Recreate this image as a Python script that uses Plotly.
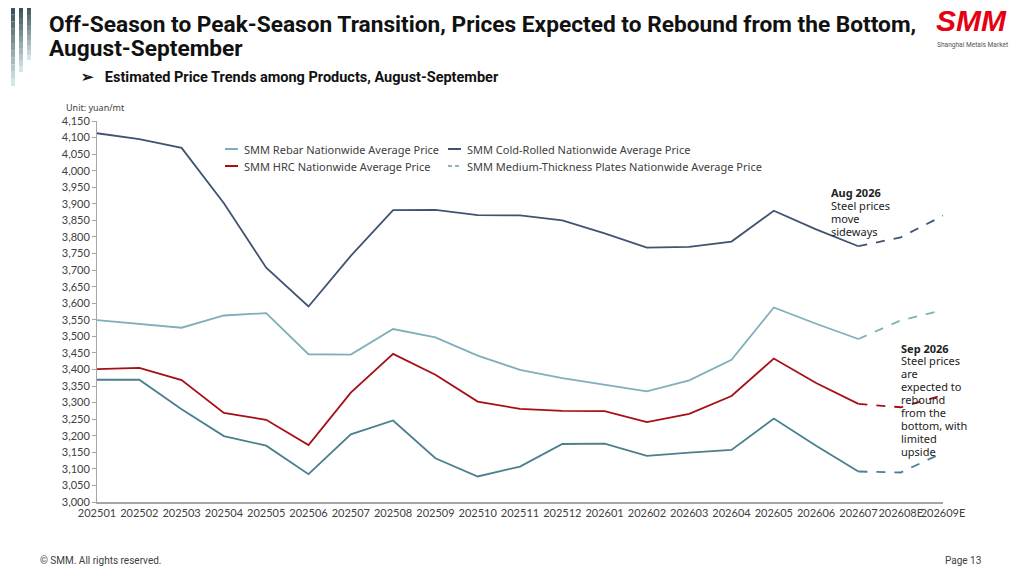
import plotly.graph_objects as go

months = ["202501", "202502", "202503", "202504", "202505", "202506", "202507",
          "202508", "202509", "202510", "202511", "202512", "202601", "202602",
          "202603", "202604", "202605", "202606", "202607", "202608E", "202609E"]

rebar = [3549, 3537, 3526, 3563, 3570, 3446, 3445, 3522, 3497, 3442, 3399,
         3374, 3354, 3334, 3367, 3429, 3587, 3538, 3492, 3548, 3579]
hrc = [3401, 3405, 3368, 3269, 3248, 3172, 3330, 3447, 3384, 3303, 3281,
       3275, 3274, 3241, 3266, 3320, 3433, 3359, 3296, 3286, 3323]
cold_rolled = [4113, 4095, 4069, 3902, 3707, 3590, 3743, 3881, 3882, 3866, 3865,
               3850, 3811, 3768, 3770, 3786, 3879, 3823, 3772, 3799, 3864]
medium_plate = [3369, 3369, 3280, 3199, 3170, 3084, 3204, 3246, 3132, 3077, 3107,
                3175, 3176, 3139, 3149, 3157, 3252, 3170, 3092, 3089, 3149]

# last actual month is 202607, the rest is forecast (dashed)
split = months.index("202607")

series = [
    ("SMM Rebar Nationwide Average Price", rebar, "#7FAFBA"),
    ("SMM HRC Nationwide Average Price", hrc, "#A50F15"),
    ("SMM Cold-Rolled Nationwide Average Price", cold_rolled, "#3E5470"),
    ("SMM Medium-Thickness Plates Nationwide Average Price", medium_plate, "#4A7F8D"),
]

aug_note = ["<b>Aug 2026</b>", "Steel prices", "move", "sideways"]
sep_note = ["<b>Sep 2026</b>", "Steel prices", "are", "expected to", "rebound",
            "from the", "bottom, with", "limited", "upside"]

fig = go.Figure()
for name, vals, color in series:
    fig.add_trace(go.Scatter(x=months[:split + 1], y=vals[:split + 1], mode="lines",
                             name=name, line=dict(color=color, width=1.8),
                             showlegend=False))
    fig.add_trace(go.Scatter(x=months[split:], y=vals[split:], mode="lines",
                             name=name + " (E)", line=dict(color=color, width=1.8, dash="dash"),
                             showlegend=False))

head_font = "Roboto, sans-serif"
body_font = "Noto Sans, sans-serif"
tick_font = dict(family="Lato, sans-serif", size=11, color="#404040")

# the page has an 8px body margin, so the plot box is placed 8px up/left
fig.update_layout(
    width=1024, height=576,
    margin=dict(l=89, r=89, t=113, b=82),
    paper_bgcolor="white", plot_bgcolor="white",
    showlegend=False,
    xaxis=dict(type="category", range=[0, 20], showgrid=False, showline=True,
               linecolor="#A6A6A6", linewidth=1.5, ticks="", tickangle=0,
               tickfont=tick_font),
    yaxis=dict(range=[3000, 4150], dtick=50, tickformat=",d", showgrid=False,
               showline=True, linecolor="#A6A6A6", linewidth=1, ticks="outside",
               ticklen=4, tickcolor="#A6A6A6", tickfont=tick_font, zeroline=False),
)


# helpers: screen pixel -> paper coords (plot box spans x 97..943, y 121..502 on screen)
def px(x):
    return (x - 97) / 846


def py(y):
    return (502 - y) / 381


def text(t, x, y, size, family=body_font, color="#404040", xanchor="left", yanchor="top"):
    fig.add_annotation(xref="paper", yref="paper", x=px(x), y=py(y), text=t,
                       showarrow=False, xanchor=xanchor, yanchor=yanchor, align="left",
                       font=dict(family=family, size=size, color=color))


text("<b>Off-Season to Peak-Season Transition, Prices Expected to Rebound from the Bottom,</b>",
     47, 9, 22.7, head_font, "#111111")
text("<b>August-September</b>", 47, 33, 22.7, head_font, "#111111")
text("<b>➢   Estimated Price Trends among Products, August-September</b>", 79, 67, 14.5,
     head_font, "#111111")
text("Unit: yuan/mt", 64, 99, 9)
text("© SMM. All rights reserved.", 38, 553, 10, head_font)
text("Page 13", 943, 553, 10, head_font)
text("<b><i>SMM</i></b>", 934, 2, 30, "Liberation Sans, Arial, sans-serif", "#E60012")
text("Shanghai Metals Market", 935, 39, 6.6, head_font, "#555555")

# legend (two columns)
legend_items = [
    ("SMM Rebar Nationwide Average Price", "#7FAFBA", "solid", 225, 149),
    ("SMM Cold-Rolled Nationwide Average Price", "#3E5470", "solid", 448, 149),
    ("SMM HRC Nationwide Average Price", "#A50F15", "solid", 225, 166),
    ("SMM Medium-Thickness Plates Nationwide Average Price", "#8FB7C2", "4px,3px", 448, 166),
]
for label, color, dash, lx, ly in legend_items:
    fig.add_shape(type="line", xref="paper", yref="paper", x0=px(lx), x1=px(lx + 13),
                  y0=py(ly), y1=py(ly), line=dict(color=color, width=2, dash=dash))
    text(label, lx + 17, ly, 11, body_font, "#404040", yanchor="middle")

# text notes, one line each so the line spacing matches
for i, line in enumerate(aug_note):
    text(line, 829, 192 + i * 13.2, 11, body_font, "#222222", yanchor="middle")
for i, line in enumerate(sep_note):
    text(line, 899, 348 + i * 12.9, 11, body_font, "#222222", yanchor="middle")

# decorative gradient bars at top-left
bars = [(11, 15, 86), (19, 23, 72), (27, 31, 60)]
steps = 12
for x0, x1, bottom in bars:
    h = bottom / steps
    for i in range(steps):
        t = i / (steps - 1)
        r = int(0x2F + (0xD4 - 0x2F) * t)
        g = int(0x44 + (0xE6 - 0x44) * t)
        b = int(0x4E + (0xEA - 0x4E) * t)
        fig.add_shape(type="rect", xref="paper", yref="paper", layer="above",
                      x0=px(x0), x1=px(x1), y0=py(i * h + h), y1=py(i * h),
                      line=dict(width=0), fillcolor=f"rgb({r},{g},{b})")

fig.write_html("out.html")
